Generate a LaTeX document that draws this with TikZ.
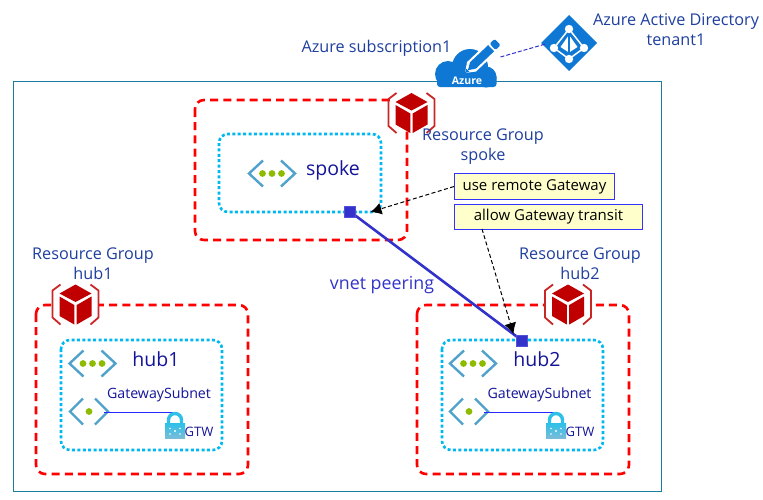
\documentclass[tikz,border=0pt]{standalone}
\usepackage{fontspec}
\setmainfont{Open Sans}
\definecolor{rgred}{HTML}{C00000}
\definecolor{dashred}{HTML}{FF0000}
\definecolor{vnetcyan}{HTML}{00B8F0}
\definecolor{titleblue}{HTML}{1F3F9F}
\definecolor{darkblue}{HTML}{14149A}
\definecolor{peerblue}{HTML}{3333CC}
\definecolor{azureblue}{HTML}{0F78D4}
\definecolor{chevron}{HTML}{50A2CC}
\definecolor{dotgreen}{HTML}{8DBB00}
\definecolor{framecol}{HTML}{1C7C9E}
\definecolor{notefill}{HTML}{FFFFCC}
\definecolor{noteline}{HTML}{3333FF}
\definecolor{locktop}{HTML}{2FC0E8}
\definecolor{lockbot}{HTML}{78BCD8}
\usetikzlibrary{arrows.meta}
\tikzset{
  rgbox/.style={draw=dashred,line width=2.6pt,dash pattern=on 8pt off 5.2pt,rounded corners=9pt},
  vnetbox/.style={draw=vnetcyan,line width=2.6pt,dash pattern=on 3pt off 2.4pt,rounded corners=9pt},
  title/.style={text=titleblue,font=\fontsize{16.2}{20}\selectfont,align=center,inner sep=0pt},
  vnetname/.style={text=darkblue,font=\fontsize{19.5}{20}\selectfont,inner sep=0pt},
  subnetname/.style={text=darkblue,font=\fontsize{14.2}{16}\selectfont,inner sep=0pt},
  gtwname/.style={text=darkblue,font=\fontsize{13}{14}\selectfont,inner sep=0pt},
  note/.style={draw=noteline,fill=notefill,line width=1pt,font=\fontsize{15}{16}\selectfont,text=black,inner sep=0pt,anchor=north west},
  peer/.style={draw=peerblue!85!white,fill=peerblue,line width=0.6pt,minimum size=11pt,inner sep=0pt},
  callout/.style={draw=black,line width=1pt,dash pattern=on 4pt off 2.5pt,-{Latex[length=11pt,width=12pt]}},
  pics/rgicon/.style={code={
    \fill[white] (-22,-18) rectangle (22,18);
    \draw[rgred!85!white,line width=1.8pt,line join=round] (-15,-20)--(-23,-14)--(-23,13)--(-15,20);
    \draw[rgred!85!white,line width=1.8pt,line join=round] (15,-20)--(23,-14)--(23,13)--(15,20);
    \fill[rgred] (0,-20)--(16,-11)--(0,-2.5)--(-16,-11)--cycle;
    \fill[rgred] (-16,-8)--(-1.2,0.5)--(-1.2,20)--(-16,11.5)--cycle;
    \fill[rgred] (16,-8)--(1.2,0.5)--(1.2,20)--(16,11.5)--cycle;
  }},
  pics/vneticon/.style={code={
    \draw[chevron,line width=2.4pt] (-9,-13)--(-23,0)--(-9,13);
    \draw[chevron,line width=2.4pt] (9,-13)--(23,0)--(9,13);
    \fill[dotgreen] (-9.5,0) circle (3.4) (0,0) circle (3.4) (9.5,0) circle (3.4);
  }},
  pics/subneticon/.style={code={
    \draw[chevron,line width=2.4pt] (-6,-13)--(-19,0)--(-6,13);
    \draw[chevron,line width=2.4pt] (6,-13)--(19,0)--(6,13);
    \fill[dotgreen] (0,0) circle (3.4);
  }},
  pics/lockicon/.style={code={
    \draw[locktop,line width=3.4pt] (-6.5,13) -- (-6.5,8) arc[start angle=180,end angle=360,radius=6.5] -- (6.5,13);
    \shade[top color=locktop,bottom color=lockbot] (-10,11.5) rectangle (10,26);
    \fill[white] (0,19) circle (1.2) (-5,16.5) circle (0.9) (5,16.5) circle (0.9) (-5,22) circle (0.9) (5,22) circle (0.9);
  }},
}
\begin{document}
\begin{tikzpicture}[x=1pt,y=-1pt]
\useasboundingbox (0,0) rectangle (763,499);
\fill[white] (0,0) rectangle (763,499);
% frame
\draw[framecol,line width=0.9pt] (13.5,81.5) rectangle (661,491);
% resource group boxes
\draw[rgbox] (195,100) rectangle (407,240);
\draw[rgbox] (36,305) rectangle (248,474);
\draw[rgbox] (417,305) rectangle (629,474);
% vnet boxes
\draw[vnetbox] (219,134) rectangle (381,212);
\draw[vnetbox] (61,340) rectangle (222,450);
\draw[vnetbox] (442,340) rectangle (603,450);
% rg icons
\pic at (411.5,113) {rgicon};
\pic at (75.5,304.5) {rgicon};
\pic at (568,304.5) {rgicon};
% vnet icons
\pic at (272,173.5) {vneticon};
\pic at (92.5,363.5) {vneticon};
\pic at (473,363.5) {vneticon};
% subnet icons + links
\pic at (89,411.5) {subneticon};
\pic at (469,411.5) {subneticon};
\coordinate (subAstart) at (104,412.5);
\coordinate (subAend) at (176,412.5);
\coordinate (subBstart) at (484,412.5);
\coordinate (subBend) at (556,412.5);
\draw[blue!85!white,line width=1pt] (subAstart)--(subAend);
\draw[blue!85!white,line width=1pt] (subBstart)--(subBend);
\pic at (175,412) {lockicon};
\pic at (556,412) {lockicon};
% cloud
\fill[azureblue] (448,74) circle (13) (470,67) circle (18) (486,77) circle (10.5);
\fill[azureblue,rounded corners=3pt] (437,74) rectangle (496.5,87);
\begin{scope}[shift={(465,73)},rotate=43.5]
  \fill[white] (0,0)--(9,-6.5)--(43,-6.5)--(47,-3)--(47,3)--(43,6.5)--(9,6.5)--cycle;
  \fill[azureblue] (4,0)--(11,-4.3)--(36,-4.3)--(36,4.3)--(11,4.3)--cycle;
  \fill[azureblue,rounded corners=1.5pt] (38,-4.3) rectangle (45,4.3);
  \fill[azureblue] (0,0)--(4,-2.2)--(4,2.2)--cycle;
\end{scope}
\node[text=white,inner sep=0pt,font=\bfseries\fontsize{10.5}{12}\selectfont] (azure) at (467,81) {Azure};
% AAD
\fill[azureblue] (569,15)--(597,43)--(569,71)--(541,43)--cycle;
\begin{scope}[shift={(569,43)}]
  \draw[white,line width=1.5pt] (0,-14)--(-15,5)--(0,16)--(15,5)--cycle;
  \fill[white] (0,-8)--(-8.5,4)--(-0.8,9)--(-0.8,-8)--cycle;
  \fill[white] (0,-8)--(8.5,4)--(0.8,9)--(0.8,-8)--cycle;
  \fill[azureblue] (-0.6,-9) rectangle (0.6,10);
  \fill[white] (0,-14) circle (4.2) (-15,5) circle (4.2) (15,5) circle (4.2) (0,16) circle (4.2);
\end{scope}
\coordinate (azureEnd) at (500.5,57);
\coordinate (aadEnd) at (545.5,44);
\draw[peerblue,line width=1pt,dash pattern=on 4pt off 2pt] (azureEnd)--(aadEnd);
% titles
\node[title] (subs) at (376.5,48.5) {Azure subscription1};
\node[title] (aad) at (676,30) {Azure Active Directory\\tenant1};
\node[title] (rgspoke) at (483,147) {Resource Group\\spoke};
\node[title] (rghub1) at (93,264) {Resource Group\\hub1};
\node[title] (rghub2) at (580,264) {Resource Group\\hub2};
\node[vnetname] (nspoke) at (333,170) {spoke};
\node[vnetname] (nhub1) at (156,359.5) {hub1};
\node[vnetname] (nhub2) at (537,359.5) {hub2};
\node[subnetname] (gs1) at (159,395) {GatewaySubnet};
\node[subnetname] (gs2) at (539.5,395) {GatewaySubnet};
\node[gtwname] (g1) at (199,432) {GTW};
\node[gtwname] (g2) at (580,432) {GTW};
\node[text=peerblue,inner sep=0pt,font=\fontsize{17.8}{18}\selectfont] (vp) at (382,285) {vnet peering};
% peering
\node[peer] (pa) at (350,211.5) {};
\node[peer] (pb) at (522,340.5) {};
\draw[peerblue,line width=2.6pt] (pa.center)--(pb.center);
\node[peer] at (350,211.5) {};
\node[peer] at (522,340.5) {};
% notes
\node[note,minimum width=160pt,minimum height=26pt] (n1) at (454,173) {use remote Gateway};
\node[note,minimum width=188pt,minimum height=25pt] (n2) at (454,204) {allow Gateway transit};
\coordinate (t1) at (370.5,212);
\coordinate (s2) at (482,229);
\coordinate (t2) at (513.5,334);
\draw[callout] (n1.west)--(t1);
\draw[callout] (s2)--(t2);
\end{tikzpicture}
\end{document}
